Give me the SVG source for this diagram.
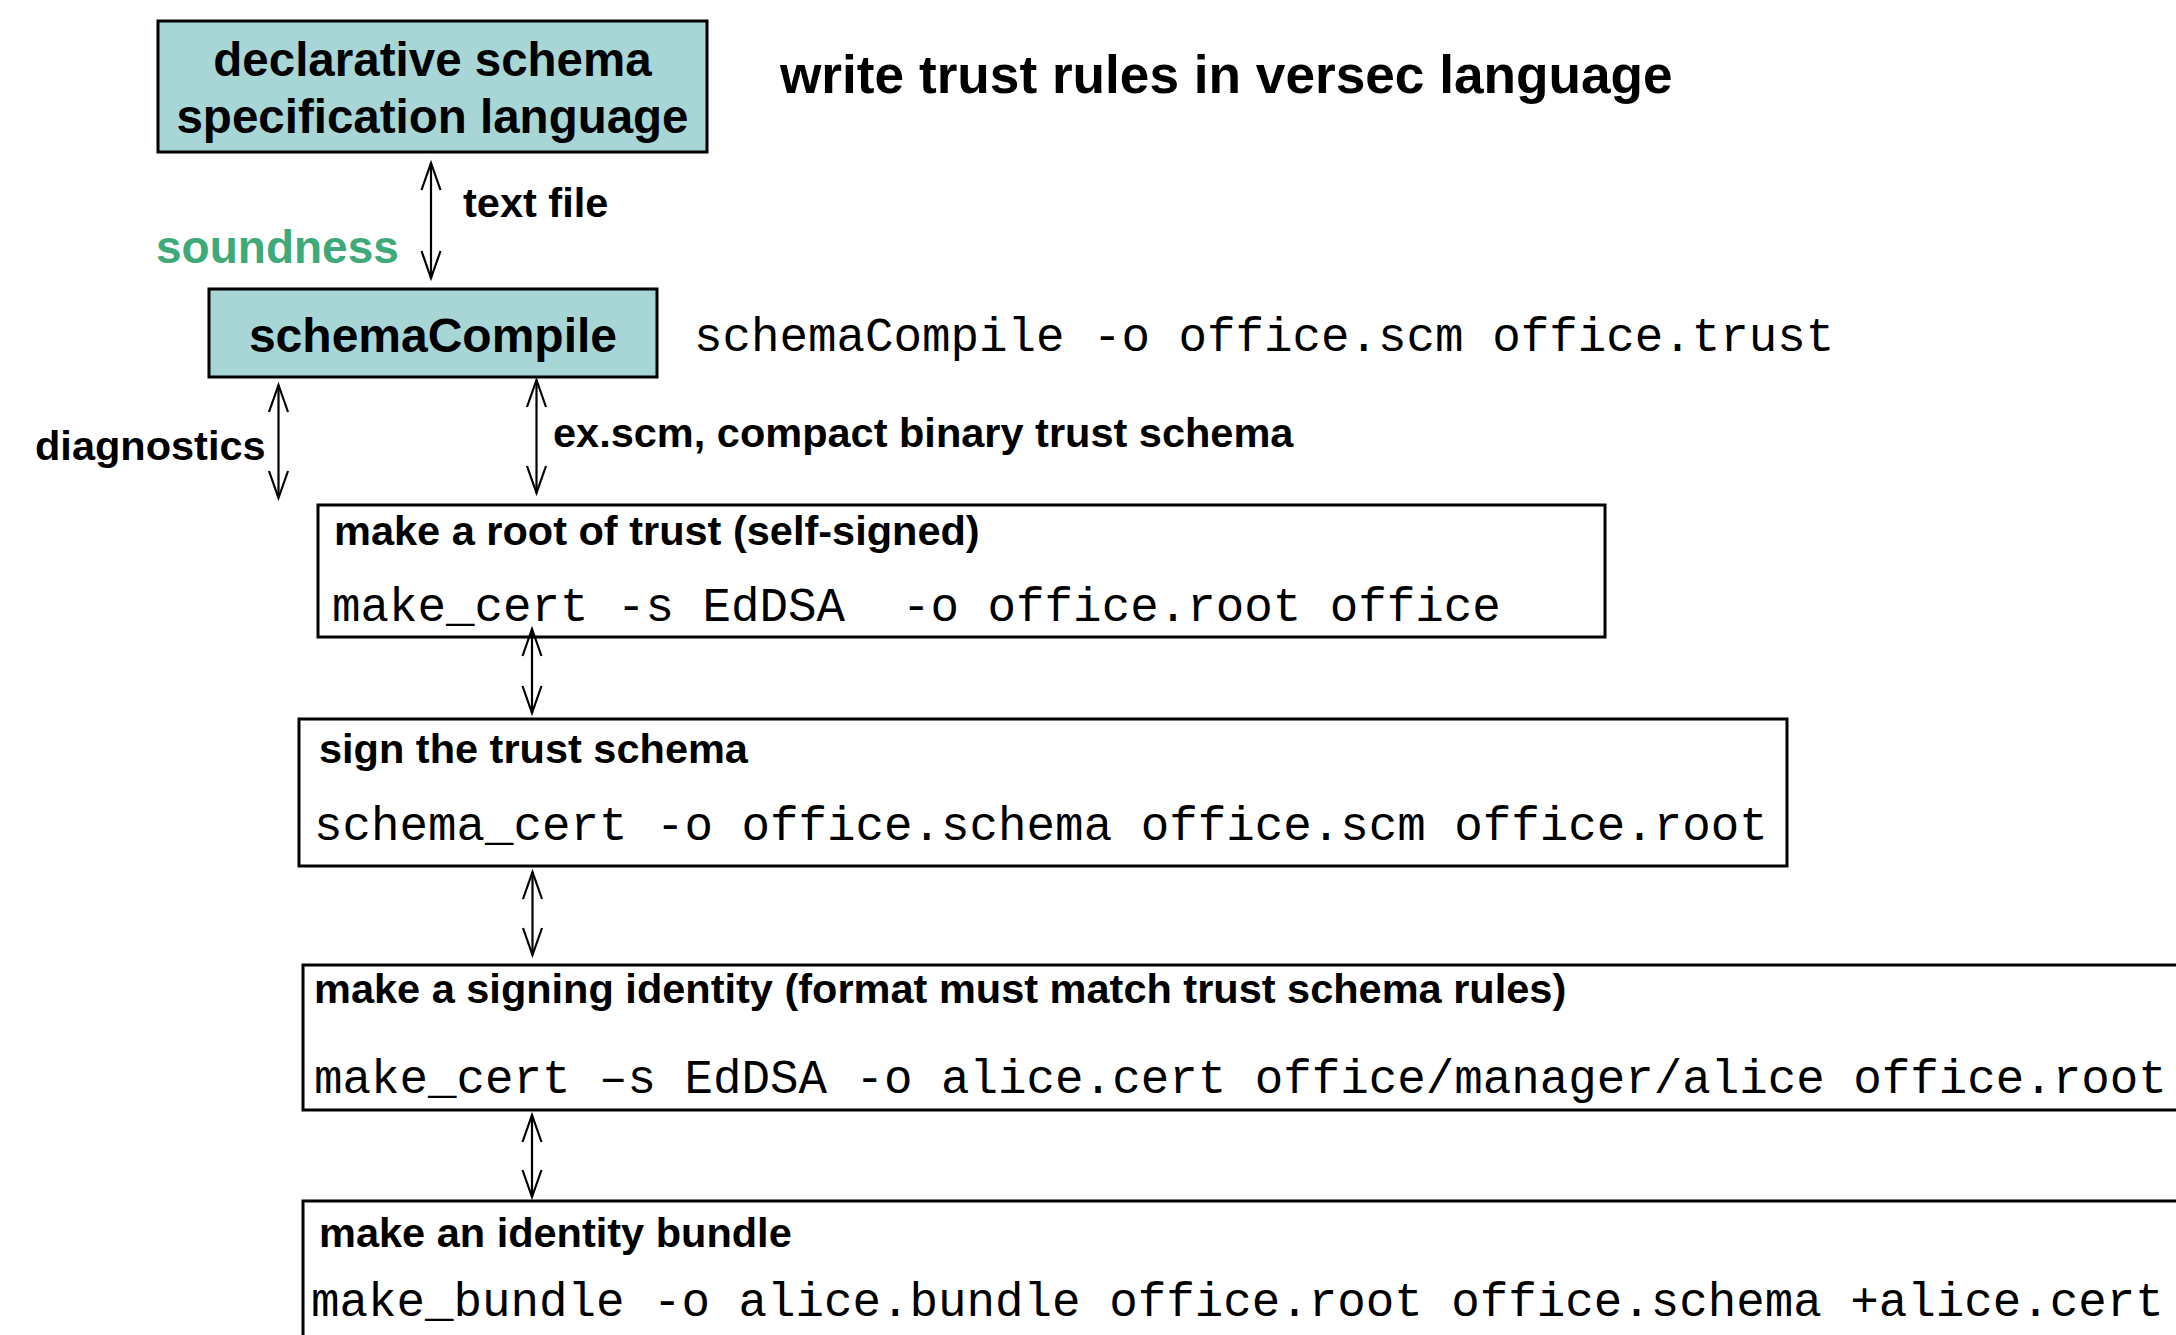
<svg xmlns="http://www.w3.org/2000/svg" width="2176" height="1335" viewBox="0 0 2176 1335">
  <style>
    .bg { fill: #ffffff; }
    .tool { fill: #a8d5d6; stroke: #000000; stroke-width: 3; }
    .step { fill: #ffffff; stroke: #000000; stroke-width: 3; }
    .sans { font-family: "Liberation Sans", Arial, Helvetica, sans-serif; font-weight: bold; fill: #000000; }
    .mono { font-family: "Liberation Mono", "Courier New", monospace; fill: #000000; font-size: 47.5px; }
    .lbl { font-size: 41.5px; }
    .green { fill: #3eaa7a; }
    .link { stroke: #000000; stroke-width: 2.2; fill: none; marker-start: url(#open); marker-end: url(#open); }
  </style>
  <defs>
    <marker id="open" markerUnits="userSpaceOnUse" markerWidth="40" markerHeight="30" viewBox="-30 -15 40 30" refX="0" refY="0" orient="auto-start-reverse">
      <path d="M -27 -9.5 L 0 0 L -27 9.5" fill="none" stroke="#000000" stroke-width="2.2"/>
    </marker>
  </defs>

  <rect class="bg" x="0" y="0" width="2176" height="1335"/>

  <!-- heading -->
  <text class="sans" x="780" y="93" font-size="53.2">write trust rules in versec language</text>

  <!-- specification language -->
  <g id="spec-language">
    <rect class="tool" x="158" y="21" width="549" height="131"/>
    <text class="sans" x="432.5" y="76" font-size="47.5" text-anchor="middle">declarative schema</text>
    <text class="sans" x="432.5" y="133" font-size="47.5" text-anchor="middle">specification language</text>
  </g>

  <!-- compiler -->
  <g id="schema-compile">
    <rect class="tool" x="209" y="289" width="448" height="88"/>
    <text class="sans" x="433" y="352" font-size="48" text-anchor="middle">schemaCompile</text>
    <text class="mono" x="694" y="351">schemaCompile -o office.scm office.trust</text>
  </g>

  <!-- side labels -->
  <g id="labels">
    <text class="sans green" x="156" y="263" font-size="46">soundness</text>
    <text class="sans lbl" x="463" y="217">text file</text>
    <text class="sans lbl" x="35" y="460">diagnostics</text>
    <text class="sans lbl" x="553" y="447">ex.scm, compact binary trust schema</text>
  </g>

  <!-- root of trust -->
  <g id="root-cert">
    <rect class="step" x="318" y="505" width="1287" height="132"/>
    <text class="sans lbl" x="334" y="545">make a root of trust (self-signed)</text>
    <text class="mono" x="332" y="621" xml:space="preserve">make_cert -s EdDSA  -o office.root office</text>
  </g>

  <!-- schema signing -->
  <g id="schema-cert">
    <rect class="step" x="299" y="719" width="1488" height="147"/>
    <text class="sans lbl" x="319" y="763">sign the trust schema</text>
    <text class="mono" x="314" y="840">schema_cert -o office.schema office.scm office.root</text>
  </g>

  <!-- signing identity -->
  <g id="signing-identity">
    <rect class="step" x="303" y="965" width="1900" height="145"/>
    <text class="sans lbl" x="314" y="1003">make a signing identity (format must match trust schema rules)</text>
    <text class="mono" x="314" y="1093">make_cert –s EdDSA -o alice.cert office/manager/alice office.root</text>
  </g>

  <!-- identity bundle -->
  <g id="identity-bundle">
    <rect class="step" x="303" y="1201" width="1900" height="160"/>
    <text class="sans lbl" x="319" y="1247">make an identity bundle</text>
    <text class="mono" x="311" y="1316">make_bundle -o alice.bundle office.root office.schema +alice.cert</text>
  </g>

  <!-- connectors -->
  <g id="connectors">
    <line class="link" x1="431" y1="163" x2="431" y2="278"/>
    <line class="link" x1="278.5" y1="385" x2="278.5" y2="498"/>
    <line class="link" x1="536.5" y1="380" x2="536.5" y2="493"/>
    <line class="link" x1="532" y1="629" x2="532" y2="713"/>
    <line class="link" x1="532.5" y1="872" x2="532.5" y2="955"/>
    <line class="link" x1="532" y1="1115" x2="532" y2="1197"/>
  </g>
</svg>
